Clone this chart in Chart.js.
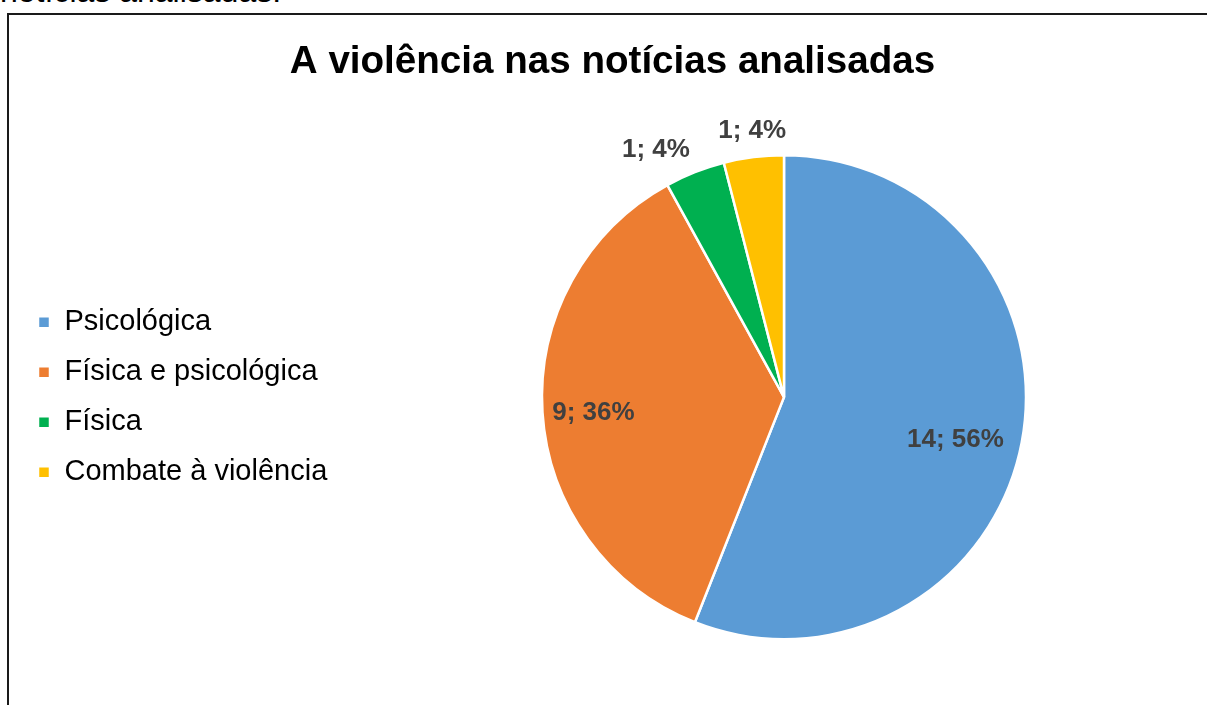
<!DOCTYPE html>
<html>
<head>
<meta charset="utf-8">
<script src="https://cdn.jsdelivr.net/npm/chart.js@4/dist/chart.umd.min.js"></script>
<style>
  html, body { margin: 0; padding: 0; width: 1207px; height: 705px; overflow: hidden; background: #fff; }
  #caption { position: absolute; left: 0; top: -25px; font: 32px "Liberation Sans", Arial, sans-serif; color: #000; white-space: nowrap; line-height: 32px; }
  #frame { position: absolute; left: 7px; top: 13px; width: 1300px; height: 800px; border: 2px solid #1a1a1a; box-sizing: border-box; }
  #wrap { position: absolute; left: 9px; top: 15px; width: 1206px; height: 720px; }
</style>
</head>
<body>
<div id="caption">notícias analisadas.</div>
<div id="frame"></div>
<div id="wrap"><canvas id="c" width="1206" height="720"></canvas></div>
<script>
const chartTitle = "A violência nas notícias analisadas";
const categories = ["Psicológica", "Física e psicológica", "Física", "Combate à violência"];
const counts = [14, 9, 1, 1];
const colors = ["#5B9BD5", "#ED7D31", "#00B050", "#FFC000"];

const total = counts.reduce((a, b) => a + b, 0);
const labelTexts = counts.map(v => v + "; " + Math.round(v / total * 100) + "%");

// label placement: radial factor and small angular adjustment (degrees)
const labelPlacement = [
  { r: 0.73, dA: 3.2 },
  { r: 0.79, dA: -1.0 },
  { r: 1.15, dA: -5.8 },
  { r: 1.11, dA: 0.4 }
];

const LEGEND_WIDTH = 343;

const legendWidthPlugin = {
  id: 'legendWidth',
  beforeInit(chart) {
    const lg = chart.legend;
    if (lg) {
      const origFit = lg.fit;
      lg.fit = function () {
        origFit.call(this);
        this.width = LEGEND_WIDTH;
      };
    }
  }
};

const dataLabelPlugin = {
  id: 'dataLabels',
  afterDatasetsDraw(chart) {
    const ctx = chart.ctx;
    const meta = chart.getDatasetMeta(0);
    ctx.save();
    ctx.font = 'bold 26px "Liberation Sans", Arial, sans-serif';
    ctx.fillStyle = '#404040';
    ctx.textAlign = 'center';
    ctx.textBaseline = 'middle';
    meta.data.forEach((arc, i) => {
      const p = arc.getProps(['x', 'y', 'startAngle', 'endAngle', 'outerRadius'], true);
      const mid = (p.startAngle + p.endAngle) / 2 + labelPlacement[i].dA * Math.PI / 180;
      const rr = p.outerRadius * labelPlacement[i].r;
      ctx.fillText(labelTexts[i], p.x + Math.cos(mid) * rr, p.y + Math.sin(mid) * rr);
    });
    ctx.restore();
  }
};

new Chart(document.getElementById('c'), {
  type: 'pie',
  data: {
    labels: categories,
    datasets: [{
      data: counts,
      backgroundColor: colors,
      borderColor: '#ffffff',
      borderWidth: 2.5,
      hoverOffset: 0
    }]
  },
  options: {
    responsive: false,
    animation: false,
    radius: 242,
    layout: { padding: { left: 8, right: 7, top: 0, bottom: 36 } },
    plugins: {
      tooltip: { enabled: false },
      title: {
        display: true,
        text: chartTitle,
        color: '#000000',
        font: { family: '"Liberation Sans", Arial, sans-serif', size: 38.6, weight: 'bold', lineHeight: 1.2 },
        padding: { top: 24, bottom: 10 }
      },
      legend: {
        position: 'left',
        align: 'center',
        fullSize: false,
        labels: {
          color: '#000000',
          font: { family: '"Liberation Sans", Arial, sans-serif', size: 29 },
          boxWidth: 12,
          boxHeight: 12,
          padding: 21
        }
      }
    }
  },
  plugins: [legendWidthPlugin, dataLabelPlugin]
});
</script>
</body>
</html>
